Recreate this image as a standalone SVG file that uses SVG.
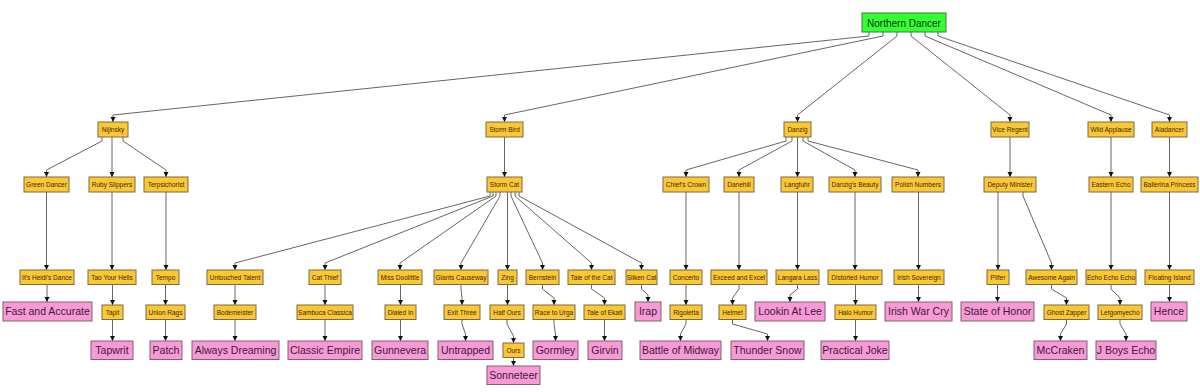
<svg xmlns="http://www.w3.org/2000/svg" width="1200" height="392" viewBox="0 0 1200 392">
<defs>
<marker id="ah" markerUnits="userSpaceOnUse" markerWidth="6" markerHeight="6" refX="5" refY="2.5" orient="auto">
<path d="M0,0 L5,2.5 L0,5 z" fill="#111"/>
</marker>
<style>
.y rect{fill:#fbc734;stroke:#7a6a48;stroke-width:1}
.y text{font-family:"Liberation Sans",Arial,sans-serif;font-size:6.5px;fill:#3a2a10;text-anchor:middle}
.p rect{fill:#f99ad6;stroke:#806070;stroke-width:1}
.p text{font-family:"Liberation Sans",Arial,sans-serif;font-size:10.5px;fill:#3a1a3a;text-anchor:middle}
.g rect{fill:#33ff33;stroke:#3a7a3a;stroke-width:1}
.g text{font-family:"Liberation Sans",Arial,sans-serif;font-size:10px;fill:#103010;text-anchor:middle}
#edges polyline{fill:none;stroke:#666;stroke-width:1;marker-end:url(#ah)}
</style>
</defs>
<rect width="1200" height="392" fill="#fff"/>
<g id="edges">
<polyline points="869,32 869,36 113,115 113,122"/>
<polyline points="883,32 883,36 504.5,115 504.5,122"/>
<polyline points="897,32 897,36 797.5,115 797.5,122"/>
<polyline points="911,32 911,36 1010,115 1010,122"/>
<polyline points="925,32 925,36 1111,115 1111,122"/>
<polyline points="938,32 938,36 1169.5,115 1169.5,122"/>
<polyline points="102,137 102,141 46.5,170 46.5,177"/>
<polyline points="112,137 112,177"/>
<polyline points="123,137 123,141 166,170 166,177"/>
<polyline points="504.5,137 504.5,177"/>
<polyline points="490,192 490,196 235,263 235,270"/>
<polyline points="493,192 493,196 325,263 325,270"/>
<polyline points="496,192 496,196 400,263 400,270"/>
<polyline points="500,192 500,196 461,263 461,270"/>
<polyline points="507.5,192 507.5,270"/>
<polyline points="511,192 511,196 542.5,263 542.5,270"/>
<polyline points="515,192 515,196 591.5,263 591.5,270"/>
<polyline points="519,192 519,196 641.5,263 641.5,270"/>
<polyline points="786,137 786,141 686,170 686,177"/>
<polyline points="792,137 792,141 739,170 739,177"/>
<polyline points="797.5,137 797.5,177"/>
<polyline points="803,137 803,141 855,170 855,177"/>
<polyline points="808,137 808,141 918,170 918,177"/>
<polyline points="1010,137 1010,177"/>
<polyline points="1111,137 1111,177"/>
<polyline points="1169.5,137 1169.5,177"/>
<polyline points="46.5,192 46.5,270"/>
<polyline points="112,192 112,270"/>
<polyline points="166,192 166,270"/>
<polyline points="686,192 686,270"/>
<polyline points="739,192 739,270"/>
<polyline points="797.5,192 797.5,270"/>
<polyline points="855,192 855,270"/>
<polyline points="918.5,192 918.5,270"/>
<polyline points="998,192 998,270"/>
<polyline points="1023,192 1023,196 1051.5,263 1051.5,270"/>
<polyline points="1111,192 1111,270"/>
<polyline points="1169.5,192 1169.5,270"/>
<polyline points="47,284.5 47,302"/>
<polyline points="112.5,284.5 112.5,305"/>
<polyline points="165.5,284.5 165.5,305"/>
<polyline points="235,284.5 235,305"/>
<polyline points="325,284.5 325,305"/>
<polyline points="400.5,284.5 400.5,305"/>
<polyline points="461,284.5 461,289 462,298 462,305"/>
<polyline points="507.5,284.5 507.5,305"/>
<polyline points="542.5,284.5 542.5,289 554,298 554,305"/>
<polyline points="591.5,284.5 591.5,289 604.5,298 604.5,305"/>
<polyline points="641.5,284.5 641.5,289 648,295 648,302"/>
<polyline points="686,284.5 686,305"/>
<polyline points="739,284.5 739,289 732.5,298 732.5,305"/>
<polyline points="797.5,284.5 797.5,289 790,295 790,302"/>
<polyline points="855.5,284.5 855.5,305"/>
<polyline points="918.5,284.5 918.5,302"/>
<polyline points="997.5,284.5 997.5,302"/>
<polyline points="1051.5,284.5 1051.5,289 1066.5,298 1066.5,305"/>
<polyline points="1111,284.5 1111,289 1120,298 1120,305"/>
<polyline points="1169.5,284.5 1169.5,302"/>
<polyline points="112.5,319.5 112.5,341"/>
<polyline points="165.5,319.5 165.5,341"/>
<polyline points="235,319.5 235,341"/>
<polyline points="325,319.5 325,341"/>
<polyline points="400.5,319.5 400.5,341"/>
<polyline points="462,319.5 462,324 465.5,334 465.5,341"/>
<polyline points="507,319.5 507,324 513.5,336 513.5,343"/>
<polyline points="554,319.5 554,324 555.5,334 555.5,341"/>
<polyline points="604.5,319.5 604.5,341"/>
<polyline points="686,319.5 686,324 680.5,334 680.5,341"/>
<polyline points="732.5,319.5 732.5,324 767.5,334 767.5,341"/>
<polyline points="855.5,319.5 855.5,341"/>
<polyline points="1066.5,319.5 1066.5,324 1060.5,334 1060.5,341"/>
<polyline points="1120,319.5 1120,324 1126,334 1126,341"/>
<polyline points="513.5,357.5 513.5,366"/>
</g>
<g id="northern-dancer" class="g"><rect x="862" y="13" width="84" height="19"/><text x="904" y="26.5">Northern Dancer</text></g>
<g id="nijinsky" class="y"><rect x="98" y="122" width="30" height="15"/><text x="113" y="131.8">Nijinsky</text></g>
<g id="storm-bird" class="y"><rect x="486" y="122" width="37" height="15"/><text x="504.5" y="131.8">Storm Bird</text></g>
<g id="danzig" class="y"><rect x="784" y="122" width="27" height="15"/><text x="797.5" y="131.8">Danzig</text></g>
<g id="vice-regent" class="y"><rect x="991" y="122" width="38" height="15"/><text x="1010" y="131.8">Vice Regent</text></g>
<g id="wild-applause" class="y"><rect x="1088" y="122" width="46" height="15"/><text x="1111" y="131.8">Wild Applause</text></g>
<g id="aladancer" class="y"><rect x="1152" y="122" width="35" height="15"/><text x="1169.5" y="131.8">Aladancer</text></g>
<g id="green-dancer" class="y"><rect x="24" y="177" width="45" height="15"/><text x="46.5" y="186.8">Green Dancer</text></g>
<g id="ruby-slippers" class="y"><rect x="89" y="177" width="46" height="15"/><text x="112" y="186.8">Ruby Slippers</text></g>
<g id="terpsichorist" class="y"><rect x="144" y="177" width="44" height="15"/><text x="166" y="186.8">Terpsichorist</text></g>
<g id="storm-cat" class="y"><rect x="487" y="177" width="35" height="15"/><text x="504.5" y="186.8">Storm Cat</text></g>
<g id="chiefs-crown" class="y"><rect x="663" y="177" width="46" height="15"/><text x="686" y="186.8">Chief's Crown</text></g>
<g id="danehill" class="y"><rect x="724" y="177" width="30" height="15"/><text x="739" y="186.8">Danehill</text></g>
<g id="langfuhr" class="y"><rect x="781" y="177" width="32" height="15"/><text x="797" y="186.8">Langfuhr</text></g>
<g id="danzigs-beauty" class="y"><rect x="829" y="177" width="52" height="15"/><text x="855" y="186.8">Danzig's Beauty</text></g>
<g id="polish-numbers" class="y"><rect x="892" y="177" width="52" height="15"/><text x="918" y="186.8">Polish Numbers</text></g>
<g id="deputy-minister" class="y"><rect x="984" y="177" width="52" height="15"/><text x="1010" y="186.8">Deputy Minister</text></g>
<g id="eastern-echo" class="y"><rect x="1089" y="177" width="44" height="15"/><text x="1111" y="186.8">Eastern Echo</text></g>
<g id="ballerina-princess" class="y"><rect x="1141" y="177" width="57" height="15"/><text x="1169.5" y="186.8">Ballerina Princess</text></g>
<g id="its-heidis-dance" class="y"><rect x="20" y="270" width="54" height="14.5"/><text x="47" y="279.5">It's Heidi's Dance</text></g>
<g id="tao-your-hells" class="y"><rect x="88" y="270" width="48" height="14.5"/><text x="112" y="279.5">Tao Your Hells</text></g>
<g id="tempo" class="y"><rect x="152" y="270" width="27" height="14.5"/><text x="165.5" y="279.5">Tempo</text></g>
<g id="untouched-talent" class="y"><rect x="207" y="270" width="56" height="14.5"/><text x="235" y="279.5">Untouched Talent</text></g>
<g id="cat-thief" class="y"><rect x="309" y="270" width="32" height="14.5"/><text x="325" y="279.5">Cat Thief</text></g>
<g id="miss-doolittle" class="y"><rect x="378" y="270" width="44" height="14.5"/><text x="400" y="279.5">Miss Doolittle</text></g>
<g id="giants-causeway" class="y"><rect x="434" y="270" width="54" height="14.5"/><text x="461" y="279.5">Giants Causeway</text></g>
<g id="zing" class="y"><rect x="498" y="270" width="19" height="14.5"/><text x="507.5" y="279.5">Zing</text></g>
<g id="bernstein" class="y"><rect x="526" y="270" width="33" height="14.5"/><text x="542.5" y="279.5">Bernstein</text></g>
<g id="tale-of-the-cat" class="y"><rect x="568" y="270" width="47" height="14.5"/><text x="591.5" y="279.5">Tale of the Cat</text></g>
<g id="silken-cat" class="y"><rect x="626" y="270" width="31" height="14.5"/><text x="641.5" y="279.5">Silken Cat</text></g>
<g id="concerto" class="y"><rect x="670" y="270" width="32" height="14.5"/><text x="686" y="279.5">Concerto</text></g>
<g id="exceed-and-excel" class="y"><rect x="711" y="270" width="56" height="14.5"/><text x="739" y="279.5">Exceed and Excel</text></g>
<g id="langara-lass" class="y"><rect x="776" y="270" width="43" height="14.5"/><text x="797.5" y="279.5">Langara Lass</text></g>
<g id="distorted-humor" class="y"><rect x="828" y="270" width="54" height="14.5"/><text x="855" y="279.5">Distorted Humor</text></g>
<g id="irish-sovereign" class="y"><rect x="894" y="270" width="50" height="14.5"/><text x="919" y="279.5">Irish Sovereign</text></g>
<g id="pilfer" class="y"><rect x="987" y="270" width="22" height="14.5"/><text x="998" y="279.5">Pilfer</text></g>
<g id="awesome-again" class="y"><rect x="1026" y="270" width="51" height="14.5"/><text x="1051.5" y="279.5">Awesome Again</text></g>
<g id="echo-echo-echo" class="y"><rect x="1086" y="270" width="50" height="14.5"/><text x="1111" y="279.5">Echo Echo Echo</text></g>
<g id="floating-island" class="y"><rect x="1145" y="270" width="49" height="14.5"/><text x="1169.5" y="279.5">Floating Island</text></g>
<g id="fast-and-accurate" class="p"><rect x="3" y="302" width="89" height="19"/><text x="47.5" y="315.2">Fast and Accurate</text></g>
<g id="tapit" class="y"><rect x="102" y="305" width="21" height="14.5"/><text x="112.5" y="314.5">Tapit</text></g>
<g id="union-rags" class="y"><rect x="146" y="305" width="39" height="14.5"/><text x="165.5" y="314.5">Union Rags</text></g>
<g id="bodemeister" class="y"><rect x="214" y="305" width="42" height="14.5"/><text x="235" y="314.5">Bodemeister</text></g>
<g id="sambuca-classica" class="y"><rect x="297" y="305" width="56" height="14.5"/><text x="325" y="314.5">Sambuca Classica</text></g>
<g id="dialed-in" class="y"><rect x="385" y="305" width="31" height="14.5"/><text x="400.5" y="314.5">Dialed In</text></g>
<g id="exit-three" class="y"><rect x="444" y="305" width="36" height="14.5"/><text x="462" y="314.5">Exit Three</text></g>
<g id="half-ours" class="y"><rect x="490" y="305" width="34" height="14.5"/><text x="507" y="314.5">Half Ours</text></g>
<g id="race-to-urga" class="y"><rect x="533" y="305" width="42" height="14.5"/><text x="554" y="314.5">Race to Urga</text></g>
<g id="tale-of-ekati" class="y"><rect x="584" y="305" width="41" height="14.5"/><text x="604.5" y="314.5">Tale of Ekati</text></g>
<g id="irap" class="p"><rect x="635" y="302" width="26" height="19"/><text x="648" y="315.2">Irap</text></g>
<g id="rigoletta" class="y"><rect x="670" y="305" width="32" height="14.5"/><text x="686" y="314.5">Rigoletta</text></g>
<g id="helmet" class="y"><rect x="719" y="305" width="27" height="14.5"/><text x="732.5" y="314.5">Helmet</text></g>
<g id="lookin-at-lee" class="p"><rect x="755" y="302" width="70" height="19"/><text x="790" y="315.2">Lookin At Lee</text></g>
<g id="halo-humor" class="y"><rect x="835" y="305" width="41" height="14.5"/><text x="855.5" y="314.5">Halo Humor</text></g>
<g id="irish-war-cry" class="p"><rect x="885" y="302" width="67" height="19"/><text x="918.5" y="315.2">Irish War Cry</text></g>
<g id="state-of-honor" class="p"><rect x="961" y="302" width="73" height="19"/><text x="997.5" y="315.2">State of Honor</text></g>
<g id="ghost-zapper" class="y"><rect x="1044" y="305" width="45" height="14.5"/><text x="1066.5" y="314.5">Ghost Zapper</text></g>
<g id="letgomyecho" class="y"><rect x="1098" y="305" width="44" height="14.5"/><text x="1120" y="314.5">Letgomyecho</text></g>
<g id="hence" class="p"><rect x="1151" y="302" width="36" height="19"/><text x="1169" y="315.2">Hence</text></g>
<g id="tapwrit" class="p"><rect x="91" y="341" width="42" height="18.5"/><text x="112" y="354">Tapwrit</text></g>
<g id="patch" class="p"><rect x="150" y="341" width="32" height="18.5"/><text x="166" y="354">Patch</text></g>
<g id="always-dreaming" class="p"><rect x="192" y="341" width="87" height="18.5"/><text x="235.5" y="354">Always Dreaming</text></g>
<g id="classic-empire" class="p"><rect x="288" y="341" width="74" height="18.5"/><text x="325" y="354">Classic Empire</text></g>
<g id="gunnevera" class="p"><rect x="372" y="341" width="56" height="18.5"/><text x="400" y="354">Gunnevera</text></g>
<g id="untrapped" class="p"><rect x="438" y="341" width="55" height="18.5"/><text x="465.5" y="354">Untrapped</text></g>
<g id="ours" class="y"><rect x="503" y="343" width="21" height="14.5"/><text x="513.5" y="352.5">Ours</text></g>
<g id="gormley" class="p"><rect x="533" y="341" width="45" height="18.5"/><text x="555.5" y="354">Gormley</text></g>
<g id="girvin" class="p"><rect x="588" y="341" width="34" height="18.5"/><text x="605" y="354">Girvin</text></g>
<g id="battle-of-midway" class="p"><rect x="640" y="341" width="81" height="18.5"/><text x="680.5" y="354">Battle of Midway</text></g>
<g id="thunder-snow" class="p"><rect x="731" y="341" width="73" height="18.5"/><text x="767.5" y="354">Thunder Snow</text></g>
<g id="practical-joke" class="p"><rect x="821" y="341" width="68" height="18.5"/><text x="855" y="354">Practical Joke</text></g>
<g id="mccraken" class="p"><rect x="1034" y="341" width="53" height="18.5"/><text x="1060.5" y="354">McCraken</text></g>
<g id="j-boys-echo" class="p"><rect x="1096" y="341" width="60" height="18.5"/><text x="1126" y="354">J Boys Echo</text></g>
<g id="sonneteer" class="p"><rect x="487" y="366" width="53" height="18.5"/><text x="513.5" y="379">Sonneteer</text></g>
</svg>
